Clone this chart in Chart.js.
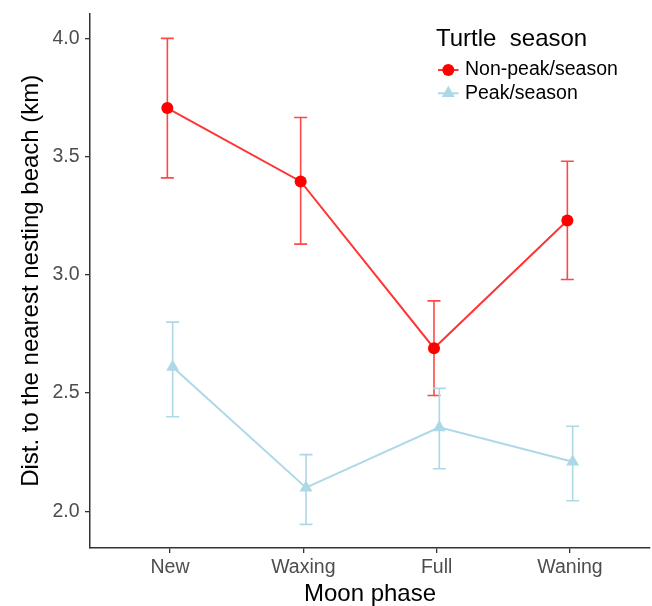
<!DOCTYPE html>
<html><head><meta charset="utf-8">
<script src="https://cdn.jsdelivr.net/npm/chart.js@4"></script>
<style>html,body{margin:0;padding:0;background:#fff}canvas{display:block}</style>
</head><body>
<canvas id="c" width="652" height="606"></canvas>
<script>
const categories = ['New', 'Waxing', 'Full', 'Waning'];
const seriesNames = ['Non-peak/season', 'Peak/season'];
const nonPeakMean = [3.705, 3.395, 2.69, 3.23];
const nonPeakLow  = [3.41, 3.13, 2.49, 2.98];
const nonPeakHigh = [4.00, 3.665, 2.89, 3.48];
const peakMean = [2.61, 2.10, 2.355, 2.21];
const peakLow  = [2.40, 1.945, 2.18, 2.045];
const peakHigh = [2.80, 2.24, 2.52, 2.36];
const yTicks = [2.0, 2.5, 3.0, 3.5, 4.0];
const legendTitle = 'Turtle  season';
const xTitle = 'Moon phase';
const yTitle = 'Dist. to the nearest nesting beach (km)';

const FONT = '"Liberation Sans", Arial, sans-serif';
const RED = '#FF0000';
const BLUE = '#ADD8E6';
const AXIS = '#333333';

function toPoints(vals, dodge) {
  return vals.map((v, i) => ({ x: i + dodge, y: v }));
}

const errorBars = {
  id: 'errorBars',
  beforeDatasetsDraw(chart) {
    const ctx = chart.ctx;
    const ys = chart.scales.y;
    chart.data.datasets.forEach((ds, di) => {
      const meta = chart.getDatasetMeta(di);
      ctx.save();
      ctx.strokeStyle = ds.errColor;
      ctx.lineWidth = 1.6;
      meta.data.forEach((pt, i) => {
        const x = pt.x;
        const y1 = ys.getPixelForValue(ds.errLow[i]);
        const y2 = ys.getPixelForValue(ds.errHigh[i]);
        ctx.beginPath();
        ctx.moveTo(x, y1); ctx.lineTo(x, y2);
        ctx.moveTo(x - 6.5, y1); ctx.lineTo(x + 6.5, y1);
        ctx.moveTo(x - 6.5, y2); ctx.lineTo(x + 6.5, y2);
        ctx.stroke();
      });
      ctx.restore();
    });
  }
};

const insideLegend = {
  id: 'insideLegend',
  afterDraw(chart) {
    const ctx = chart.ctx;
    ctx.save();
    ctx.textAlign = 'left';
    ctx.textBaseline = 'middle';
    ctx.fillStyle = '#000';
    ctx.font = '24px ' + FONT;
    ctx.fillText(legendTitle, 436, 39.5);
    chart.data.datasets.forEach((ds, i) => {
      const y = 70 + i * 23.3;
      ctx.strokeStyle = ds.borderColor;
      ctx.lineWidth = ds.borderWidth;
      ctx.beginPath(); ctx.moveTo(438, y); ctx.lineTo(458.5, y); ctx.stroke();
      ctx.fillStyle = ds.pointBackgroundColor;
      Chart.helpers.drawPoint(ctx, { pointStyle: ds.pointStyle, radius: ds.pointRadius, rotation: 0, borderWidth: 0 }, 448.3, y);
      ctx.fillStyle = '#000';
      ctx.font = '19.5px ' + FONT;
      ctx.fillText(ds.label, 465, y);
    });
    ctx.restore();
  }
};

new Chart(document.getElementById('c'), {
  type: 'line',
  data: {
    datasets: [
      {
        label: seriesNames[0],
        data: toPoints(nonPeakMean, -0.02),
        errLow: nonPeakLow, errHigh: nonPeakHigh,
        errColor: 'rgba(255,40,40,0.85)',
        borderColor: 'rgba(255,30,30,0.9)',
        borderWidth: 2,
        pointStyle: 'circle',
        pointRadius: 6,
        pointBorderWidth: 0,
        pointBackgroundColor: RED,
        tension: 0
      },
      {
        label: seriesNames[1],
        data: toPoints(peakMean, 0.02),
        errLow: peakLow, errHigh: peakHigh,
        errColor: BLUE,
        borderColor: BLUE,
        borderWidth: 2,
        pointStyle: 'triangle',
        pointRadius: 7.5,
        pointBorderWidth: 0,
        pointBackgroundColor: BLUE,
        tension: 0
      }
    ]
  },
  options: {
    responsive: false,
    animation: false,
    events: [],
    layout: { autoPadding: false, padding: { top: 13.5, right: 2, bottom: 0, left: 0 } },
    plugins: { legend: { display: false }, tooltip: { enabled: false } },
    scales: {
      x: {
        type: 'linear',
        min: -0.6, max: 3.6,
        afterBuildTicks: s => { s.ticks = categories.map((c, i) => ({ value: i })); },
        afterFit: s => { s.height = 58; s.paddingLeft = 0; s.paddingRight = 0; },
        ticks: {
          callback: v => categories[v],
          font: { family: FONT, size: 19.5 },
          color: '#4D4D4D',
          padding: 2.5,
          maxRotation: 0,
          autoSkip: false
        },
        grid: { display: true, drawOnChartArea: false, drawTicks: true, tickLength: 5, color: AXIS, lineWidth: 1.3 },
        border: { display: true, color: AXIS, width: 1.5 },
        title: { display: true, text: xTitle, color: '#000', font: { family: FONT, size: 24, lineHeight: 0.94 }, padding: 0 }
      },
      y: {
        type: 'linear',
        min: 1.845, max: 4.105,
        afterBuildTicks: s => { s.ticks = yTicks.map(v => ({ value: v })); },
        afterFit: s => { s.width = 90; s.paddingTop = 0; s.paddingBottom = 0; },
        ticks: {
          callback: v => Number(v).toFixed(1),
          font: { family: FONT, size: 19.5 },
          color: '#4D4D4D',
          padding: 5.5
        },
        grid: { display: true, drawOnChartArea: false, drawTicks: true, tickLength: 5, color: AXIS, lineWidth: 1.3 },
        border: { display: true, color: AXIS, width: 1.5 },
        title: { display: true, text: yTitle, color: '#000', font: { family: FONT, size: 24, lineHeight: 1 }, padding: { top: 19, bottom: 0 } }
      }
    }
  },
  plugins: [errorBars, insideLegend]
});
</script>
</body></html>
